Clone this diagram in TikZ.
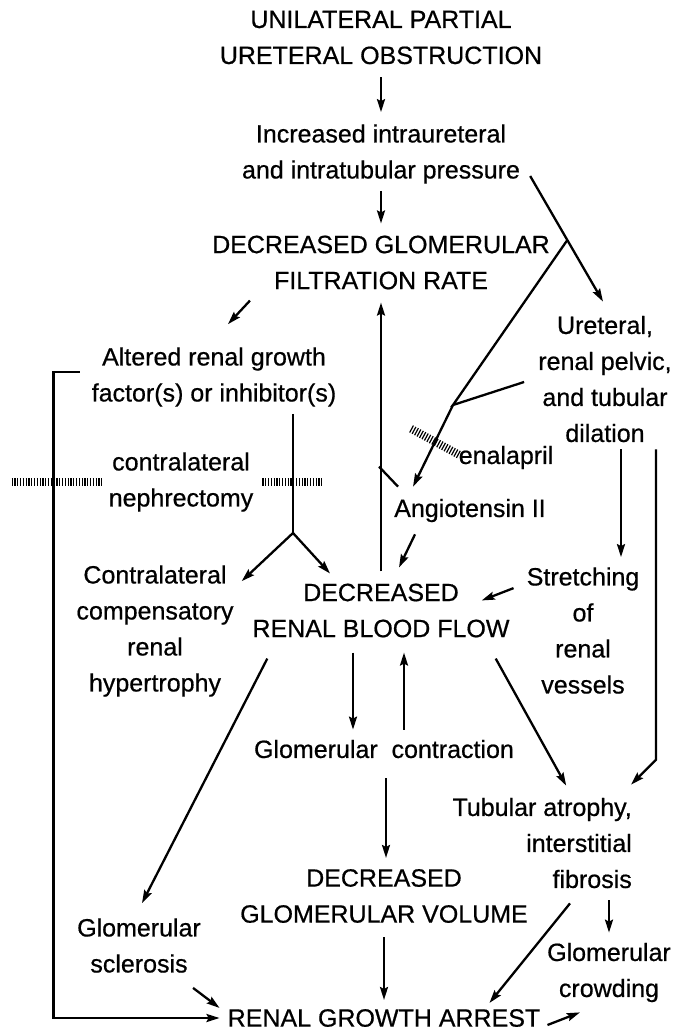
\documentclass[tikz,border=0pt]{standalone}
\usepackage{fontspec}
\setmainfont{Liberation Sans}
\newfontfamily\diafont{Liberation Sans}[FakeBold=0.6]
\usepackage{tikz}
\usetikzlibrary{arrows.meta, calc}

\begin{document}
\begin{tikzpicture}[x=1pt, y=-1pt,
    txt/.style={align=center, inner sep=0pt, font=\diafont\fontsize{25}{36}\selectfont},
    line/.style={line width=2.3pt},
    arrow/.style={line width=2.3pt, -{Stealth[length=13pt, width=8pt, inset=2pt]}},
    hatch/.style={line width=8pt, dash pattern=on 1.2pt off 1.6pt}]
    \useasboundingbox (0,0) rectangle (673,1034);
    \node [txt] (obs) at (381,37.5) {UNILATERAL PARTIAL\\URETERAL OBSTRUCTION};
    \node [txt] (press) at (381,154) {Increased intraureteral\\and intratubular pressure};
    \node [txt] (gfr) at (381,262.5) {DECREASED GLOMERULAR\\FILTRATION RATE};
    \node [txt] (growth) at (214,377) {Altered renal growth\\factor(s) or inhibitor(s)};
    \node [txt] (dil) at (605,379) {Ureteral,\\renal pelvic,\\and tubular\\dilation};
    \node [txt] (nephr) at (181,482) {contralateral\\nephrectomy};
    \node [txt] (enal) at (506,457.5) {enalapril};
    \node [txt] (ang) at (470,510.5) {Angiotensin II};
    \node [txt] (comp) at (155,631) {Contralateral\\compensatory\\renal\\hypertrophy};
    \node [txt] (rbf) at (381,610.5) {DECREASED\\RENAL BLOOD FLOW};
    \node [txt] (stretch) at (583,630.5) {Stretching\\of\\renal\\vessels};
    \node [txt] (contr) at (384,749) {Glomerular~~contraction};
    \node [txt, align=right, anchor=east] (tub) at (632,843) {Tubular atrophy,\\interstitial\\fibrosis};
    \node [txt] (gvol) at (384,896) {DECREASED\\GLOMERULAR VOLUME};
    \node [txt] (scl) at (139,945.5) {Glomerular\\sclerosis};
    \node [txt] (crowd) at (609,972.5) {Glomerular\\crowding};
    \node [txt] (arrest) at (384,1018) {RENAL GROWTH ARREST};

    \draw [arrow] ([yshift=-13pt]obs.south) -- ([yshift=12pt]press.north);
    \draw [arrow] ([yshift=-7pt]press.south) -- ([yshift=12pt]gfr.north);
    \coordinate (pa) at ([xshift=10pt,yshift=-22pt]press.east);
    \coordinate (da) at ([xshift=-2pt,yshift=14pt]dil.north);
    \draw [arrow] (pa) -- (da);
    \coordinate (jA) at ($(pa)!0.51!(da)$);
    \coordinate (jB) at (453,405);
    \draw [line] (jA) -- (jB) -- ([xshift=-14pt,yshift=-3pt]dil.west);
    \coordinate (at) at ([xshift=19pt,yshift=12pt]ang.north west);
    \draw [arrow] (jB) -- (at);
    \draw [hatch] ($(jB)!0.45!(at)$) ++(-24,-13) -- ++(48,26);
    \draw [arrow] ([yshift=12pt]rbf.north) -- ([yshift=-13pt]gfr.south);
    \draw [line] ([xshift=4pt,yshift=12pt]ang.north west) -- ++(-19,-20);
    \draw [arrow] ([xshift=-131pt,yshift=-11pt]gfr.south) -- ([xshift=14pt,yshift=23pt]growth.north);
    \draw [arrow] ([xshift=-12pt,yshift=5pt]growth.west) -- ++(-26,0) |- ([xshift=-8pt]arrest.west);
    \draw [hatch] ([xshift=-97pt]nephr.west) -- ([xshift=-6pt]nephr.west);
    \draw [hatch] ([xshift=9pt]nephr.east) -- ([xshift=69pt]nephr.east);
    \coordinate (jC) at (293,533);
    \draw [line] ([yshift=-7pt]growth.south -| jC) -- (jC);
    \draw [arrow] (jC) -- ([xshift=8pt,yshift=-16pt]comp.north east);
    \draw [arrow] (jC) -- ([xshift=-51pt,yshift=10pt]rbf.north);
    \draw [arrow] ([xshift=-55pt,yshift=-12pt]ang.south) -- ([xshift=18pt,yshift=16pt]rbf.north);
    \coordinate (dS) at ([xshift=16pt,yshift=-7pt]dil.south);
    \draw [arrow] (dS) -- ([yshift=10pt]stretch.north -| dS);
    \coordinate (dE) at ([xshift=51pt,yshift=-7pt]dil.south);
    \draw [arrow] (dE) -- ([yshift=38pt]tub.north east -| dE) -- ([xshift=-1pt,yshift=13pt]tub.north east);
    \draw [arrow] ([xshift=-13pt,yshift=-21pt]stretch.north west) -- ([xshift=-28pt,yshift=-17pt]rbf.north east);
    \draw [arrow] ([xshift=15pt,yshift=-21pt]rbf.south west) -- ([xshift=3pt,yshift=15pt]scl.north);
    \coordinate (cL) at ([xshift=-28pt,yshift=-15pt]rbf.south);
    \draw [arrow] (cL) -- ([yshift=10pt]contr.north -| cL);
    \coordinate (cR) at ([xshift=20pt,yshift=10pt]contr.north);
    \draw [arrow] (cR) -- ([yshift=-15pt]rbf.south -| cR);
    \draw [arrow] ([xshift=2pt,yshift=-20pt]contr.south) -- ([xshift=2pt,yshift=11pt]gvol.north);
    \draw [arrow] ([yshift=-14pt]gvol.south) -- ([yshift=9pt]arrest.north);
    \draw [arrow] ([xshift=-14pt,yshift=-21pt]rbf.south east) -- ([xshift=24pt,yshift=12pt]tub.north);
    \coordinate (tS) at ([xshift=-23pt,yshift=-12pt]tub.south east);
    \draw [arrow] (tS) -- ([yshift=10pt]crowd.north -| tS);
    \draw [arrow] ([xshift=-62pt,yshift=-15pt]tub.south east) -- ([xshift=-51pt,yshift=6pt]arrest.north east);
    \draw [arrow] ([xshift=-8pt,yshift=-15pt]scl.south east) -- ([xshift=-8pt,yshift=1pt]arrest.north west);
    \draw [arrow] ([xshift=7pt,yshift=-7pt]arrest.east) -- ([xshift=33pt,yshift=-10pt]crowd.south west);
\end{tikzpicture}
\end{document}
